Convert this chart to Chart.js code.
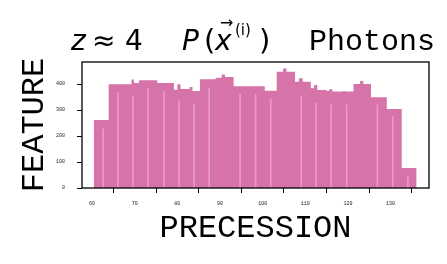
<!DOCTYPE html>
<html><head><meta charset="utf-8">
<script src="https://cdn.jsdelivr.net/npm/chart.js@4/dist/chart.umd.min.js"></script>
<style>html,body{margin:0;padding:0;background:#fff;}</style>
</head><body>
<canvas id="c" width="447" height="264"></canvas>
<script>
// Histogram step profile (bin edges on PRECESSION axis, counts on FEATURE axis)
const binEdges = [60.4, 63.9, 69.25, 69.8, 71.0, 75.3, 79.2, 80.0, 80.75, 82.9, 83.55, 85.3, 89.0, 90.4, 91.15, 93.2, 100.5, 103.3, 104.8, 105.6, 107.6, 108.5, 109.4, 111.3, 112.05, 112.8, 115.0, 115.55, 116.35, 118.9, 119.3, 121.3, 122.85, 123.6, 125.4, 129.1, 132.6, 136.1];
const counts = [262, 399, 418, 404, 415, 404, 378, 399, 381, 389, 373, 419, 424, 437, 427, 392, 374, 447, 460, 447, 409, 422, 409, 384, 396, 377, 373, 380, 371, 373, 371, 400, 412, 400, 349, 304, 77];
// faint inner bin separators
const sepX = [62.58, 66.1, 69.6, 73.15, 76.9, 80.4, 83.9, 87.45, 94.7, 98.35, 101.9, 109.05, 112.5, 116.05, 119.7, 126.9, 130.5, 134.05];
const sepTop = [228, 367, 355, 384, 371, 336, 323, 386, 361, 361, 341, 355, 326, 320, 320, 320, 275, 45];
const xTicks = [60, 70, 80, 90, 100, 110, 120, 130];
const yTicks = [0, 100, 200, 300, 400];

const PINK = 'rgb(214,115,169)';
const LIGHT = 'rgba(240,165,208,0.8)';

const stepPoints = binEdges.map((e, i) => ({x: e, y: counts[Math.min(i, counts.length - 1)]}));
const sepPoints = sepX.map((x, i) => ({x: x, y: sepTop[i]}));

const framePlugin = {
  id: 'frame',
  afterDatasetsDraw(chart) {
    const a = chart.chartArea, c = chart.ctx;
    c.save();
    c.strokeStyle = '#000';
    c.lineWidth = 1.3;
    c.strokeRect(a.left, a.top, a.right - a.left, a.bottom - a.top);
    c.restore();
  }
};

const titlePlugin = {
  id: 'mtitle',
  afterDraw(chart) {
    const c = chart.ctx;
    c.save();
    c.fillStyle = '#000';
    c.textBaseline = 'alphabetic';
    c.textAlign = 'left';
    const b = 50;
    c.font = 'italic 28px "DejaVu Sans"'; c.fillText('z', 71, b);
    c.font = '28px "DejaVu Sans"'; c.fillText('\u2248', 92, b); c.fillText('4', 125, b);
    c.font = 'italic 28px "DejaVu Sans"'; c.fillText('P', 182, b);
    c.font = '29px "DejaVu Sans"'; c.fillText('(', 204, b);
    c.font = 'italic 28px "DejaVu Sans"'; c.fillText('x', 215, b);
    c.font = '16px "DejaVu Sans"'; c.fillText('\u2192', 220, 28);
    c.font = '15px "DejaVu Sans"'; c.fillText('(i)', 235, 35);
    c.font = '29px "DejaVu Sans"'; c.fillText(')', 259, b);
    c.font = '30px "Liberation Mono"'; c.fillText('Photons', 309, b);
    c.restore();
  }
};

new Chart(document.getElementById('c'), {
  type: 'line',
  data: {
    datasets: [
      {type: 'line', data: stepPoints, stepped: true, fill: 'origin', backgroundColor: PINK,
       borderColor: 'transparent', borderWidth: 0, pointRadius: 0, order: 2},
      {type: 'bar', data: sepPoints, backgroundColor: LIGHT, barThickness: 1, order: 1}
    ]
  },
  options: {
    responsive: false, animation: false, devicePixelRatio: 1,
    layout: {padding: {top: 62, right: 18, left: 0, bottom: 0}},
    plugins: {legend: {display: false}, tooltip: {enabled: false}, title: {display: false}},
    scales: {
      x: {
        type: 'linear', min: 57.65, max: 139, offset: false,
        afterBuildTicks: s => { s.ticks = xTicks.map(v => ({value: v})); },
        afterFit: s => { s.height = 76; },
        grid: {display: true, drawOnChartArea: false, drawTicks: true, tickLength: 5, color: '#000', lineWidth: 1},
        border: {display: false},
        ticks: {font: {family: 'Liberation Mono', size: 5}, color: '#222', padding: 8, maxRotation: 0, autoSkip: false,
                callback: v => String(v)},
        title: {display: true, text: 'PRECESSION', color: '#000',
                font: {family: 'Liberation Mono', size: 32, lineHeight: 1}, padding: {top: 0, bottom: 19}}
      },
      y: {
        type: 'linear', min: 0, max: 485,
        afterBuildTicks: s => { s.ticks = yTicks.map(v => ({value: v})); },
        afterFit: s => { s.width = 82; },
        grid: {display: true, drawOnChartArea: false, drawTicks: true, tickLength: 5, color: '#000', lineWidth: 1},
        border: {display: false},
        ticks: {font: {family: 'Liberation Mono', size: 5}, color: '#222', padding: 12, autoSkip: false,
                callback: v => String(v)},
        title: {display: true, text: 'FEATURE', color: '#000',
                font: {family: 'Liberation Mono', size: 32, lineHeight: 1}, padding: {top: 19, bottom: 0}}
      }
    }
  },
  plugins: [framePlugin, titlePlugin]
});
</script>
</body></html>
